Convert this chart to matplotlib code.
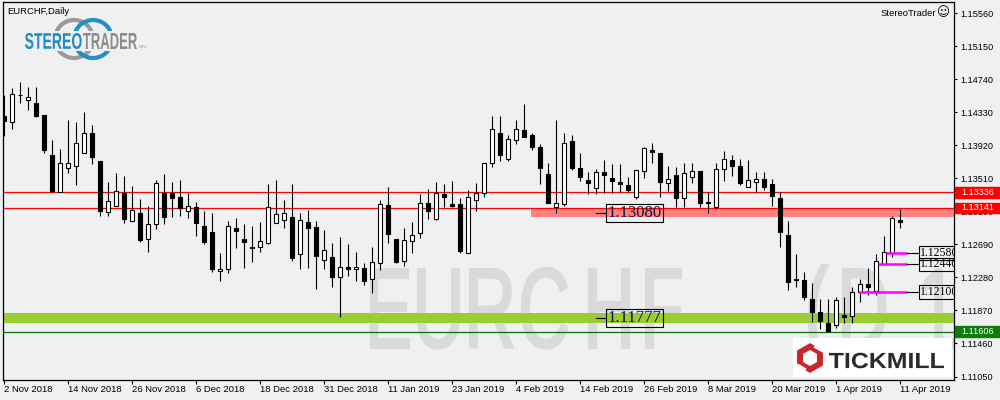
import numpy as np
import matplotlib
matplotlib.use("Agg")
from matplotlib import pyplot as plt
from matplotlib.patches import Rectangle, Circle, RegularPolygon, PathPatch
from matplotlib.textpath import TextPath
from matplotlib.font_manager import FontProperties
from matplotlib.transforms import Affine2D

plt.rcParams["font.family"] = ["Liberation Sans", "DejaVu Sans"]

# daily EURCHF candles, 2 Nov 2018 .. 11 Apr 2019
opens = [1.14282, 1.14211, 1.14540, 1.14477, 1.14443, 1.14294, 1.13798, 1.13343, 1.13633, 1.13665,
         1.13827, 1.14071, 1.13724, 1.13087, 1.13162, 1.13330, 1.12976, 1.13079, 1.12752, 1.12938,
         1.13330, 1.13330, 1.13281, 1.13100, 1.13153, 1.12917, 1.12847, 1.12355, 1.12380, 1.12892,
         1.12756, 1.12655, 1.12653, 1.12703, 1.12951, 1.12988, 1.13025, 1.12566, 1.12967, 1.12901,
         1.12492, 1.12529, 1.12288, 1.12409, 1.12380, 1.12392, 1.12256, 1.12455, 1.13178, 1.12752,
         1.12483, 1.12727, 1.12827, 1.13199, 1.13000, 1.13314, 1.13190, 1.13187, 1.12579, 1.13240,
         1.13323, 1.13695, 1.14067, 1.13752, 1.13981, 1.14105, 1.14043, 1.13897, 1.13559, 1.13149,
         1.13190, 1.13972, 1.13637, 1.13488, 1.13385, 1.13584, 1.13509, 1.13460, 1.13426, 1.13281,
         1.13596, 1.13860, 1.13819, 1.13447, 1.13550, 1.13261, 1.13529, 1.13600, 1.13219, 1.13157,
         1.13625, 1.13736, 1.13662, 1.13405, 1.13460, 1.13500, 1.13438, 1.13261, 1.12806, 1.12260,
         1.12247, 1.12012, 1.11847, 1.11710, 1.11689, 1.11813, 1.11801, 1.12100, 1.12194, 1.12111,
         1.12440, 1.12580, 1.12992]
highs = [1.14543, 1.14629, 1.14704, 1.14646, 1.14642, 1.14300, 1.13984, 1.13873, 1.14232, 1.14208,
         1.14332, 1.14170, 1.13730, 1.13463, 1.13575, 1.13538, 1.13414, 1.13256, 1.13169, 1.13488,
         1.13562, 1.13463, 1.13488, 1.13330, 1.13219, 1.13103, 1.13079, 1.12582, 1.12979, 1.13017,
         1.12942, 1.12917, 1.12967, 1.13438, 1.13488, 1.13240, 1.13438, 1.13079, 1.13116, 1.12979,
         1.12868, 1.12703, 1.12777, 1.12694, 1.12591, 1.12455, 1.12653, 1.13240, 1.13401, 1.12760,
         1.12892, 1.12967, 1.13314, 1.13376, 1.13463, 1.13438, 1.13476, 1.13265, 1.13364, 1.13447,
         1.13700, 1.14282, 1.14282, 1.14050, 1.14232, 1.14431, 1.14075, 1.13938, 1.13703, 1.14232,
         1.14067, 1.14050, 1.13819, 1.13584, 1.13621, 1.13736, 1.13687, 1.13687, 1.13529, 1.13612,
         1.13901, 1.13943, 1.13822, 1.13662, 1.13653, 1.13695, 1.13695, 1.13605, 1.13343, 1.13703,
         1.13848, 1.13798, 1.13745, 1.13736, 1.13591, 1.13584, 1.13497, 1.13333, 1.12983, 1.12570,
         1.12350, 1.12206, 1.12012, 1.12008, 1.12036, 1.12040, 1.12157, 1.12256, 1.12392, 1.12570,
         1.12793, 1.13041, 1.13125]
lows = [1.14034, 1.14121, 1.14447, 1.14357, 1.14273, 1.13827, 1.13343, 1.13340, 1.13579, 1.13426,
        1.13825, 1.13687, 1.13045, 1.13045, 1.13160, 1.12955, 1.12975, 1.12715, 1.12599, 1.12884,
        1.12942, 1.13033, 1.13045, 1.13020, 1.12793, 1.12694, 1.12350, 1.12239, 1.12338, 1.12648,
        1.12400, 1.12474, 1.12599, 1.12700, 1.12950, 1.12896, 1.12487, 1.12388, 1.12400, 1.12139,
        1.12388, 1.12164, 1.11792, 1.12301, 1.12239, 1.12189, 1.12090, 1.12371, 1.12710, 1.12455,
        1.12425, 1.12586, 1.12765, 1.13000, 1.12998, 1.13157, 1.13157, 1.12586, 1.12577, 1.13100,
        1.13281, 1.13646, 1.13720, 1.13720, 1.13935, 1.14018, 1.13860, 1.13442, 1.13200, 1.13082,
        1.13165, 1.13612, 1.13479, 1.13311, 1.13314, 1.13323, 1.13330, 1.13335, 1.13339, 1.13249,
        1.13509, 1.13695, 1.13281, 1.13352, 1.13157, 1.13157, 1.13447, 1.13149, 1.13075, 1.13125,
        1.13479, 1.13541, 1.13426, 1.13400, 1.13343, 1.13364, 1.13169, 1.12653, 1.12123, 1.12157,
        1.11999, 1.11730, 1.11639, 1.11606, 1.11656, 1.11710, 1.11710, 1.11978, 1.12061, 1.12061,
        1.12433, 1.12536, 1.12896]
closes = [1.14220, 1.14555, 1.14548, 1.14514, 1.14282, 1.13860, 1.13352, 1.13695, 1.13695, 1.13943,
          1.14071, 1.13777, 1.13107, 1.13224, 1.13348, 1.13008, 1.13112, 1.12744, 1.12942, 1.13447,
          1.13033, 1.13268, 1.13144, 1.13165, 1.12958, 1.12722, 1.12388, 1.12384, 1.12914, 1.12859,
          1.12722, 1.12650, 1.12727, 1.13149, 1.13066, 1.13075, 1.12524, 1.12988, 1.12896, 1.12549,
          1.12616, 1.12288, 1.12405, 1.12388, 1.12405, 1.12239, 1.12467, 1.13187, 1.12814, 1.12474,
          1.12740, 1.12802, 1.13199, 1.13100, 1.13330, 1.13273, 1.13169, 1.12611, 1.13273, 1.13323,
          1.13695, 1.14117, 1.13802, 1.14000, 1.14117, 1.14025, 1.13894, 1.13641, 1.13206, 1.13206,
          1.13943, 1.13641, 1.13522, 1.13455, 1.13584, 1.13546, 1.13479, 1.13442, 1.13364, 1.13608,
          1.13881, 1.13839, 1.13460, 1.13497, 1.13268, 1.13571, 1.13603, 1.13199, 1.13203, 1.13621,
          1.13745, 1.13665, 1.13455, 1.13488, 1.13497, 1.13405, 1.13290, 1.12839, 1.12226, 1.12244,
          1.12033, 1.11847, 1.11735, 1.11618, 1.11995, 1.11792, 1.12102, 1.12194, 1.12164, 1.12479,
          1.12591, 1.13013, 1.12972]

date_labels = ["2 Nov 2018", "14 Nov 2018", "26 Nov 2018", "6 Dec 2018", "18 Dec 2018",
               "31 Dec 2018", "11 Jan 2019", "23 Jan 2019", "4 Feb 2019", "14 Feb 2019",
               "26 Feb 2019", "8 Mar 2019", "20 Mar 2019", "1 Apr 2019", "11 Apr 2019"]
price_ticks = [1.11050, 1.11460, 1.11870, 1.12280, 1.12690, 1.13100,
               1.13510, 1.13920, 1.14330, 1.14740, 1.15150, 1.15560]

red_lines = [1.13336, 1.13141]
last_low = 1.11606
resist_zone = (1.13030, 1.13141)
support_zone = (1.11718, 1.11834)
zone_labels = [1.13080, 1.11777]
magenta_levels = [1.12580, 1.12440, 1.12100]
magenta_start = [110.3, 109.3, 106.9]

BG = "#eff0f2"

opens = np.array(opens)
closes = np.array(closes)
n = len(opens)
idx = np.arange(n)

fig = plt.figure(figsize=(10, 4), dpi=100, facecolor=BG)

# pixel-coordinate layers behind / in front of the chart
ax_bg = fig.add_axes([0, 0, 1, 1], zorder=0)
ax_bg.set_xlim(0, 1000)
ax_bg.set_ylim(400, 0)
ax_bg.axis("off")

ax = fig.add_axes([0.0025, 0.05125, 0.9515, 0.94375], zorder=1)
ax.set_facecolor("none")

ax_top = fig.add_axes([0, 0, 1, 1], zorder=3)
ax_top.set_xlim(0, 1000)
ax_top.set_ylim(400, 0)
ax_top.axis("off")


def glyph(axo, s, x_left, baseline, size, sx, color, weight="normal", zorder=1, lw=0):
    tp = TextPath((0, 0), s, size=size, prop=FontProperties(family="Liberation Sans", weight=weight))
    ext = tp.get_extents()
    tr = Affine2D().translate(-ext.x0, 0).scale(sx, -1).translate(x_left, baseline)
    axo.add_patch(PathPatch(tr.transform_path(tp), fc=color, ec=color if lw else "none",
                            lw=lw, zorder=zorder))


def fit_text(axo, s, x0, x1, top, bottom, color, weight="normal", zorder=1):
    tp = TextPath((0, 0), s, size=100, prop=FontProperties(family="Liberation Sans", weight=weight))
    ext = tp.get_extents()
    sx = (x1 - x0) / ext.width
    sy = (bottom - top) / ext.height
    tr = Affine2D().translate(-ext.x0, -ext.y0).scale(sx, -sy).translate(x0, bottom)
    axo.add_patch(PathPatch(tr.transform_path(tp), fc=color, ec="none", zorder=zorder))


# big watermark
wm = "#d9dadc"
for ch, xl in zip("EURCHF(D1", [370.5, 418, 470, 522, 589, 646, 809, 843, 923]):
    glyph(ax_bg, ch, xl, 347.5, 114, 0.63, wm, lw=1.6)

# StereoTrader logo
ax_bg.add_patch(Circle((74, 39), 19, fill=False, ec="#9a9a9a", lw=3.0))
ax_bg.add_patch(Circle((93, 39), 19, fill=False, ec="#2290c4", lw=3.0))
ax_bg.add_patch(Rectangle((22, 31), 128, 20, fc=BG, ec="none", zorder=2))
fit_text(ax_bg, "STEREO", 25, 81.7, 33, 49, "#1e8cc0", weight="bold", zorder=3)
fit_text(ax_bg, "TRADER", 83, 137, 33, 49, "#8c8c8c", weight="bold", zorder=3)
ax_bg.text(139, 48.5, "MT4", fontsize=3, color="#9a9a9a", zorder=3)

# zones and levels
ax.axhspan(*support_zone, color="#9acd32", lw=0, zorder=2)
ax.add_patch(Rectangle((65.9, resist_zone[0]), 60, resist_zone[1] - resist_zone[0],
                       color="#ff8080", lw=0, zorder=2))
for p in red_lines:
    ax.axhline(p, color="red", lw=0.9, zorder=3)
ax.axhline(last_low, color="#0a700a", lw=0.9, zorder=3)

# candles
up = closes >= opens
ax.vlines(idx, lows, highs, color="black", lw=0.8, zorder=4)
ax.bar(idx, np.abs(closes - opens), bottom=np.minimum(opens, closes), width=0.5,
       color=np.where(up, "white", "black"), edgecolor="black", linewidth=0.8, zorder=5)

# zone labels
for p in zone_labels:
    ax.plot([74.06, 75.35], [p, p], color="black", lw=0.8, zorder=6)
    ax.text(75.5, p, f"{p:.5f}", family="Liberation Serif", fontsize=12, color="#111133",
            va="center", ha="left", zorder=7,
            bbox=dict(boxstyle="square,pad=0.08", fc="none", ec="black", lw=0.8))

# magenta levels
for p, x0 in zip(magenta_levels, magenta_start):
    ax.plot([x0, 112.9], [p, p], color="#ff00ff", lw=1.8, solid_capstyle="butt", zorder=6)
    ax.plot([112.9, 114.35], [p, p], color="black", lw=0.8, zorder=6)
    t = ax.text(114.5, p, f"{p:.5f}", family="Liberation Serif", fontsize=8.5, color="black",
                va="center", ha="left", zorder=7,
                bbox=dict(boxstyle="square,pad=0.08", fc="none", ec="black", lw=0.8))
    t.set_clip_on(True)
    t.set_clip_box(ax.bbox)

# axes styling
ax.set_xlim(-0.125, 118.81)
ax.set_ylim(1.110129, 1.156965)
for s in ax.spines.values():
    s.set_color("black")
    s.set_linewidth(0.9)
ax.yaxis.tick_right()
ax.set_yticks(price_ticks)
ax.set_yticklabels([f"{p:.5f}" for p in price_ticks])
ax.set_xticks(idx[::8])
ax.set_xticklabels(date_labels)
for lbl in ax.get_xticklabels():
    lbl.set_ha("left")
ax.tick_params(axis="y", direction="out", length=2.2, width=0.8, pad=2.7, labelsize=6.6)
ax.tick_params(axis="x", direction="out", length=2.9, width=0.8, pad=0.8, labelsize=6.8)

# current price tags on the scale
ytr = ax.get_yaxis_transform()
for p, c in [(red_lines[0], "red"), (red_lines[1], "red"), (last_low, "#0b7d0b")]:
    ax.add_patch(Rectangle((1.001, p - 0.00066), 0.06, 0.00132, transform=ytr,
                           clip_on=False, color=c, zorder=8))
    ax.text(1.0073, p, f"{p:.5f}", transform=ytr, color="white", fontsize=6.6,
            va="center", ha="left", zorder=9, clip_on=False)

# header texts
ax_top.text(7.3, 14, "EURCHF,Daily", fontsize=6.8, va="baseline", color="black")
ax_top.text(936, 16, "StereoTrader", fontsize=6.8, va="baseline", ha="right", color="black")
ax_top.text(943, 13, "\u263a", family="DejaVu Sans", fontsize=9, va="center", ha="center",
            color="black")

# Tickmill logo
ax_top.add_patch(Rectangle((793, 338), 158.7, 39, fc="white", ec="none"))
ax_top.add_patch(RegularPolygon((810, 358), 6, radius=11.5, fill=False, ec="#c8252c", lw=4.3))
ax_top.plot([815, 822], [347, 351], color="white", lw=1.6)
ax_top.plot([798, 805], [365, 369], color="white", lw=1.6)
fit_text(ax_top, "TICKMILL", 829, 944, 352.7, 368.3, "#2b2b2b", weight="bold")

fig.savefig("out.png", dpi=100, facecolor=BG)
